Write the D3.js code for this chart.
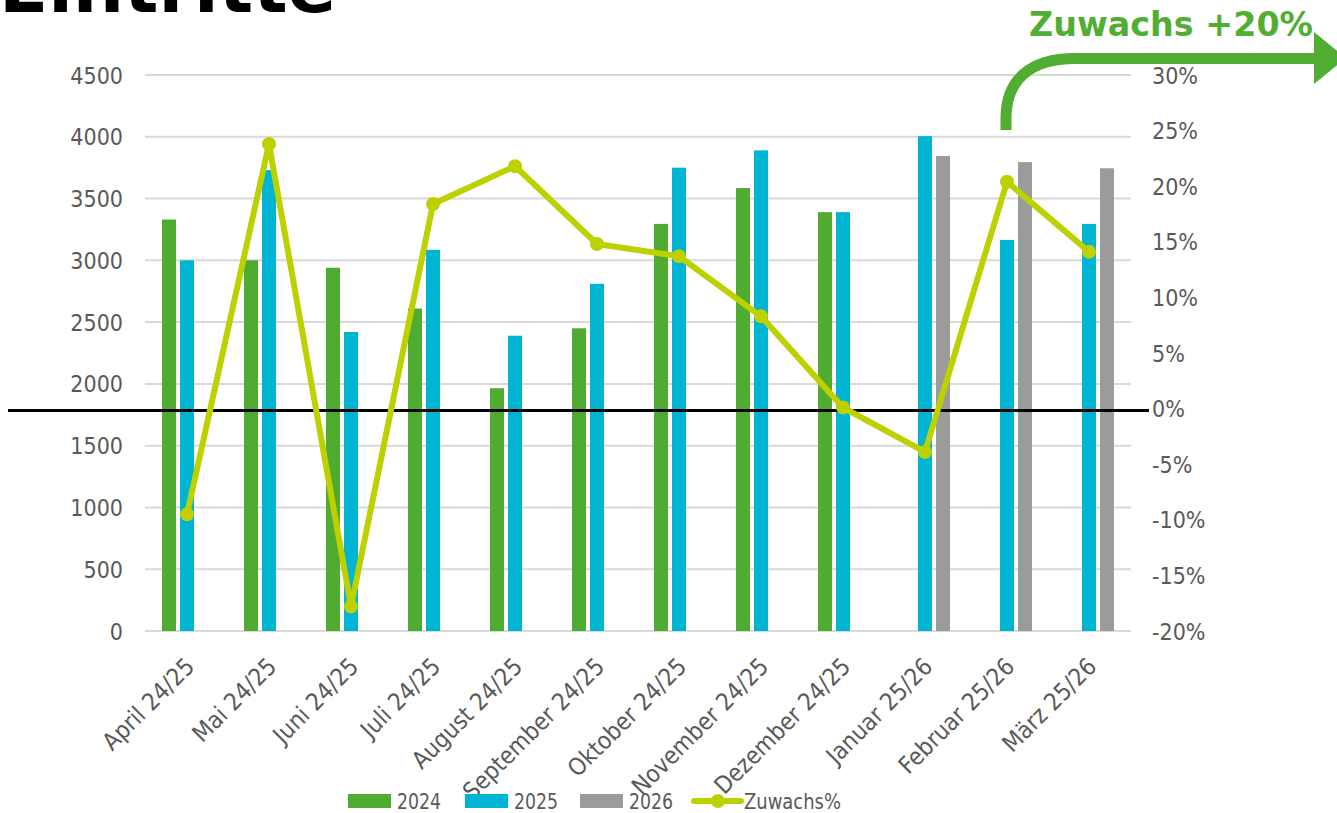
<!DOCTYPE html>
<html>
<head>
<meta charset="utf-8">
<script src="https://cdnjs.cloudflare.com/ajax/libs/d3/7.8.5/d3.min.js"></script>
<style>
  html, body { margin: 0; padding: 0; background: #ffffff; overflow: hidden; }
  svg { display: block; }
</style>
</head>
<body>
<svg id="chart" width="1337" height="813"></svg>
<script>
const categories = ["April 24/25", "Mai 24/25", "Juni 24/25", "Juli 24/25", "August 24/25", "September 24/25",
  "Oktober 24/25", "November 24/25", "Dezember 24/25", "Januar 25/26", "Februar 25/26", "März 25/26"];
const seriesNames = ["2024", "2025", "2026"];
const values2024 = [3330, 3000, 2940, 2610, 1965, 2450, 3295, 3585, 3390, null, null, null];
const values2025 = [3000, 3730, 2420, 3085, 2390, 2810, 3750, 3890, 3390, 4005, 3165, 3295];
const values2026 = [null, null, null, null, null, null, null, null, null, 3845, 3795, 3745];
const growthPct = [-9.5, 23.8, -17.8, 18.4, 21.8, 14.8, 13.7, 8.3, 0.1, -3.9, 20.4, 14.1];
const leftTicks = [0, 500, 1000, 1500, 2000, 2500, 3000, 3500, 4000, 4500];
const rightTicks = [-20, -15, -10, -5, 0, 5, 10, 15, 20, 25, 30];
const lineName = "Zuwachs%";
const titleText = "Eintritte";
const calloutText = "Zuwachs +20%";

const colors = { "2024": "#4fac30", "2025": "#00b4d3", "2026": "#9b9b9b" };
const lineColor = "#bdd000";
const calloutColor = "#52ae32";
const axisTextColor = "#595959";
const fontAxis = "'DejaVu Sans Condensed', 'DejaVu Sans', sans-serif";

const svg = d3.select("#chart");

const plotLeft = 146, plotRight = 1130, plotTop = 75, plotBottom = 631;

const x = d3.scaleBand().domain(categories).range([plotLeft, plotRight]).paddingInner(0).paddingOuter(0);
const xSub = d3.scaleBand().domain(seriesNames).range([16, 66]).paddingInner(4 / 18).paddingOuter(0);
const yL = d3.scaleLinear().domain([0, 4500]).range([plotBottom, plotTop]);
const yR = d3.scaleLinear().domain([-20, 30]).range([plotBottom, plotTop]);

// Title (cut off at top, as in the source image)
svg.append("text")
  .attr("x", -1).attr("y", 12)
  .attr("font-family", "'DejaVu Sans', sans-serif")
  .attr("font-weight", "bold")
  .attr("font-size", 72)
  .attr("fill", "#000")
  .text(titleText);

// Gridlines
svg.append("g").selectAll("line").data(leftTicks).join("line")
  .attr("x1", plotLeft - 1).attr("x2", plotRight + 1)
  .attr("y1", d => yL(d)).attr("y2", d => yL(d))
  .attr("stroke", "#d9d9d9").attr("stroke-width", 2);

// Left axis labels
const leftAxis = d3.axisLeft(yL).tickValues(leftTicks).tickSize(0).tickPadding(0).tickFormat(d3.format("d"));
const gL = svg.append("g").attr("transform", `translate(123,0)`).call(leftAxis);
gL.select(".domain").remove();
gL.selectAll("text").attr("font-family", fontAxis).attr("font-size", 23).attr("fill", axisTextColor).attr("dy", "0.35em");

// Right axis labels
const rightAxis = d3.axisRight(yR).tickValues(rightTicks).tickSize(0).tickPadding(0).tickFormat(d => d + "%");
const gR = svg.append("g").attr("transform", `translate(1152,0)`).call(rightAxis);
gR.select(".domain").remove();
gR.selectAll("text").attr("font-family", fontAxis).attr("font-size", 23).attr("fill", axisTextColor).attr("dy", "0.35em");

// Bars
const barData = [];
const seriesValues = { "2024": values2024, "2025": values2025, "2026": values2026 };
seriesNames.forEach(s => {
  seriesValues[s].forEach((v, i) => {
    if (v != null) barData.push({ s, cat: categories[i], v });
  });
});
svg.append("g").selectAll("rect").data(barData).join("rect")
  .attr("x", d => x(d.cat) + xSub(d.s))
  .attr("width", xSub.bandwidth())
  .attr("y", d => yL(d.v))
  .attr("height", d => yL(0) - yL(d.v))
  .attr("fill", d => colors[d.s]);

// Black zero line
svg.append("line")
  .attr("x1", 8).attr("x2", 1149)
  .attr("y1", yR(0) + 2).attr("y2", yR(0) + 2)
  .attr("stroke", "#000").attr("stroke-width", 3);

// Growth line
const lineData = growthPct.map((g, i) => ({ cat: categories[i], g }));
const lineGen = d3.line().x(d => x(d.cat) + x.bandwidth() / 2).y(d => yR(d.g));
svg.append("path").datum(lineData)
  .attr("d", lineGen)
  .attr("fill", "none").attr("stroke", lineColor).attr("stroke-width", 6).attr("stroke-linejoin", "round");
svg.append("g").selectAll("circle").data(lineData).join("circle")
  .attr("cx", d => x(d.cat) + x.bandwidth() / 2)
  .attr("cy", d => yR(d.g))
  .attr("r", 7).attr("fill", lineColor);

// X axis labels
svg.append("g").selectAll("text").data(categories).join("text")
  .attr("transform", d => `translate(${x(d) + x.bandwidth() / 2 + 3},${662}) rotate(-45)`)
  .attr("text-anchor", "end")
  .attr("dy", "0.35em")
  .attr("font-family", fontAxis).attr("font-size", 24).attr("fill", axisTextColor)
  .text(d => d);

// Legend
const legend = svg.append("g").attr("font-family", fontAxis).attr("font-size", 22).attr("fill", axisTextColor);
const legendItems = [
  { name: "2024", type: "bar", x: 348, w: 44 },
  { name: "2025", type: "bar", x: 465, w: 44 },
  { name: "2026", type: "bar", x: 580, w: 44 },
  { name: lineName, type: "line", x: 694, w: 97 }
];
legendItems.forEach(it => {
  if (it.type === "bar") {
    legend.append("rect").attr("x", it.x).attr("y", 794).attr("width", 43).attr("height", 14).attr("fill", colors[it.name]);
    legend.append("text").attr("x", it.x + 49).attr("y", 801).attr("dy", "0.35em")
      .attr("textLength", it.w).attr("lengthAdjust", "spacingAndGlyphs").text(it.name);
  } else {
    legend.append("line").attr("x1", it.x).attr("x2", it.x + 47).attr("y1", 801).attr("y2", 801)
      .attr("stroke", lineColor).attr("stroke-width", 6).attr("stroke-linecap", "round");
    legend.append("circle").attr("cx", it.x + 24).attr("cy", 801).attr("r", 7).attr("fill", lineColor);
    legend.append("text").attr("x", it.x + 50).attr("y", 801).attr("dy", "0.35em")
      .attr("textLength", it.w).attr("lengthAdjust", "spacingAndGlyphs").text(it.name);
  }
});

// Callout arrow and text
svg.append("path")
  .attr("d", "M1006,130 L1006,118 C1006,80 1030,58.5 1075,58.5 L1318,58.5")
  .attr("fill", "none").attr("stroke", calloutColor).attr("stroke-width", 11);
svg.append("path")
  .attr("d", "M1314,32 L1314,84 L1346,58 Z")
  .attr("fill", calloutColor);
svg.append("text")
  .attr("x", 1029).attr("y", 36)
  .attr("font-family", "'DejaVu Sans', sans-serif").attr("font-weight", "bold")
  .attr("font-size", 34).attr("fill", calloutColor)
  .attr("textLength", 284).attr("lengthAdjust", "spacingAndGlyphs")
  .text(calloutText);
</script>
</body>
</html>
